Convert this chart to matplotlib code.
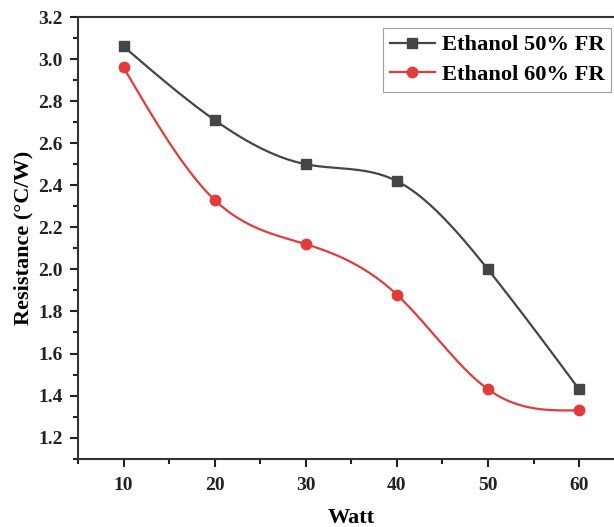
import numpy as np
import matplotlib
matplotlib.use("Agg")
import matplotlib.pyplot as plt
from matplotlib.ticker import MultipleLocator

watt = [10, 20, 30, 40, 50, 60]
eth50 = [3.06, 2.71, 2.50, 2.42, 2.00, 1.43]
eth60 = [2.96, 2.33, 2.12, 1.88, 1.43, 1.33]
labels = ["Ethanol 50% FR", "Ethanol 60% FR"]
ytick_vals = [1.2, 1.4, 1.6, 1.8, 2.0, 2.2, 2.4, 2.6, 2.8, 3.0, 3.2]
ytick_labels = ["1.2", "1.4", "1.6", "1.8", "2.0", "2.2", "2.4", "2.6", "2.8", "3.0", "3.2"]


def natural_spline(x, y, n=300):
    x = np.asarray(x, float)
    y = np.asarray(y, float)
    k = len(x)
    h = np.diff(x)
    A = np.zeros((k, k))
    b = np.zeros(k)
    A[0, 0] = 1
    A[-1, -1] = 1
    for i in range(1, k - 1):
        A[i, i - 1] = h[i - 1]
        A[i, i] = 2 * (h[i - 1] + h[i])
        A[i, i + 1] = h[i]
        b[i] = 3 * ((y[i + 1] - y[i]) / h[i] - (y[i] - y[i - 1]) / h[i - 1])
    c = np.linalg.solve(A, b)
    xs = np.linspace(x[0], x[-1], n)
    ys = np.empty_like(xs)
    for j, xv in enumerate(xs):
        i = min(np.searchsorted(x, xv, side="right") - 1, k - 2)
        dx = xv - x[i]
        bi = (y[i + 1] - y[i]) / h[i] - h[i] * (2 * c[i] + c[i + 1]) / 3
        di = (c[i + 1] - c[i]) / (3 * h[i])
        ys[j] = y[i] + bi * dx + c[i] * dx ** 2 + di * dx ** 3
    return xs, ys


plt.rcParams["font.family"] = ["Liberation Serif", "DejaVu Serif"]
plt.rcParams["font.weight"] = "bold"

fig = plt.figure(figsize=(6.14, 5.27), dpi=100)
ax = fig.add_axes([78 / 614, 1 - 458.7 / 527, 546.6 / 614, 441.7 / 527])

c1 = "#454545"
c2 = "#e23b3b"
for ys, col, mk, lab in [(eth50, c1, "s", labels[0]), (eth60, c2, "o", labels[1])]:
    sx, sy = natural_spline(watt, ys)
    ax.plot(sx, sy, color=col, lw=1.6, zorder=2)
    ax.plot(watt, ys, linestyle="none", marker=mk, color=col, ms=7.5, zorder=3)
    ax.plot([], [], color=col, lw=1.6, marker=mk, ms=7.5, label=lab)

ax.set_xlim(5, 65)
ax.set_ylim(1.1, 3.2)
ax.xaxis.set_major_locator(MultipleLocator(10))
ax.xaxis.set_minor_locator(MultipleLocator(5))
ax.yaxis.set_minor_locator(MultipleLocator(0.1))
ax.set_yticks(ytick_vals)
ax.set_yticklabels(ytick_labels)

for s in ax.spines.values():
    s.set_linewidth(1.5)
    s.set_color("#333333")
ax.tick_params(which="major", direction="out", length=6, width=1.5, labelsize=14, colors="#222222")
ax.tick_params(which="minor", direction="out", length=3.5, width=1.5, colors="#222222")
ax.tick_params(axis="x", pad=7)
ax.tick_params(axis="y", pad=5)

ax.set_xlabel("Watt", fontsize=16, fontweight="bold", labelpad=10)
ax.set_ylabel("Resistance (°C/W)", fontsize=16, fontweight="bold", labelpad=3)

leg = fig.legend(loc="upper left", bbox_to_anchor=(383 / 614, 1 - 28 / 527),
                 frameon=True, fancybox=False, edgecolor="#888888",
                 handlelength=2.0, borderpad=0.3, labelspacing=0.4, handletextpad=0.3,
                 borderaxespad=0.0, prop={"weight": "bold", "size": 16.2})
leg.get_frame().set_linewidth(0.8)

fig.savefig("out.png", dpi=100)
